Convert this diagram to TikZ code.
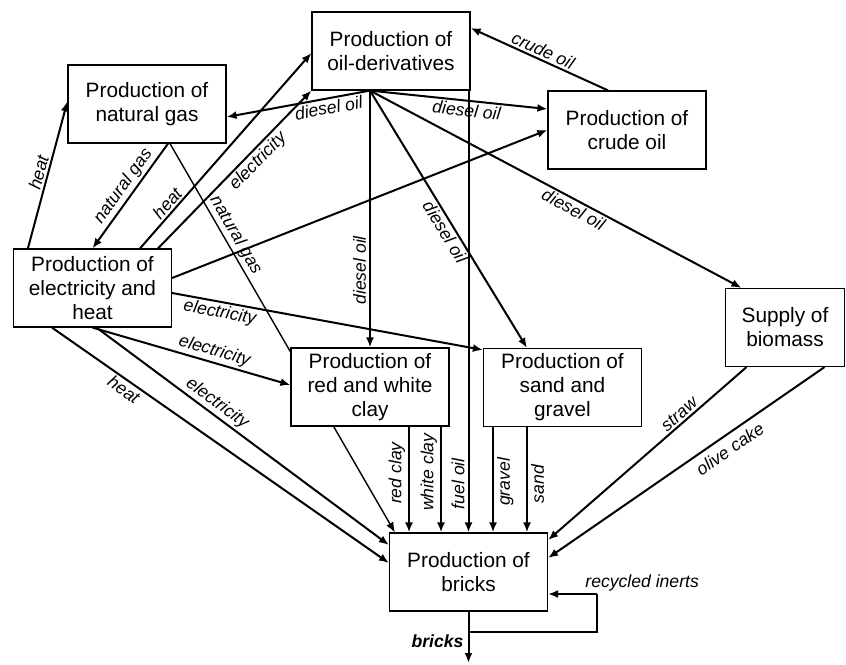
\documentclass[tikz,border=0pt]{standalone}
\usepackage{fontspec}
\setmainfont{Liberation Sans}
\usepackage{tikz}
\usetikzlibrary{arrows.meta, calc, positioning}
\tikzset{>={Latex[length=5pt,width=4pt]}}
\tikzset{box/.style={draw, line width=0.6pt, fill=white, align=center,
    minimum width=79pt, minimum height=39pt, inner sep=2pt,
    font=\fontsize{10.4}{12}\selectfont}}
\tikzset{flow/.style={->, line width=1pt},
  thinflow/.style={->, line width=0.7pt},
  lbl/.style={font=\fontsize{8.8}{10}\selectfont\itshape, inner sep=1pt, sloped},
  vlbl/.style={font=\fontsize{8.8}{10}\selectfont\itshape, inner sep=1.5pt, rotate=90}}

\begin{document}
\begin{tikzpicture}[x=0.5pt, y=-0.5pt]
  \useasboundingbox (0,0) rectangle (846,664);
  % processes
  \node[box] (od) at (391,51) {Production of\\oil-derivatives};
  \node[box] (ng) at (147,104) {Production of\\natural gas};
  \node[box] (co) at (627,130) {Production of\\crude oil};
  \node[box] (eh) at (92.5,288) {Production of\\electricity and\\heat};
  \node[box] (sg) at (562.5,387.5) {Production of\\sand and\\gravel};
  \node[box, minimum width=59.5pt] (bm) at (785,327.5) {Supply of\\biomass};
  \node[box] (br) at (468.5,572) {Production of\\bricks};
  % natural gas runs behind the clay box
  \draw[thinflow] ([xshift=11.5pt]ng.south) -- ([xshift=3pt]br.north west)
    node[lbl, pos=0.25, above] (lng2) {natural gas};
  \node[box] (cl) at (370,387) {Production of\\red and white\\clay};

  \draw[flow] ([xshift=7.5pt]eh.north west) -- ([yshift=-18.5pt]ng.north west)
    node[lbl, midway, above] (lh1) {heat};
  \draw[flow] ([xshift=10.5pt]ng.south) -- (eh.north)
    node[lbl, pos=0.47, above] (lng1) {natural gas};
  \draw[flow] ([xshift=23.75pt]eh.north) -- ([yshift=-1pt]od.west)
    node[lbl, pos=0.2, above] (lh2) {heat};
  \draw[flow] ([xshift=32.75pt]eh.north) -- (od.south west)
    node[lbl, pos=0.6, below] (le1) {electricity};
  \draw[flow] ([yshift=5pt]eh.east) -- (co.west);
  \draw[flow] ([yshift=-2.5pt]eh.east) -- ([yshift=-1pt]sg.north west)
    node[lbl, pos=0.16, below] (le2) {electricity};
  \draw[flow] (eh.south) -- ([yshift=1pt]cl.west)
    node[lbl, pos=0.6, above] (le3) {electricity};
  \draw[flow] ([xshift=2pt]eh.south) -- ([yshift=13.5pt]br.west)
    node[lbl, pos=0.39, above] (le4) {electricity};
  \draw[flow] ([xshift=-20.25pt]eh.south) -- ([yshift=4.5pt]br.west)
    node[lbl, pos=0.23, below] (lh3) {heat};

  % oil-derivatives
  \draw[flow] ([xshift=-9.5pt]co.north) -- ([yshift=11.5pt]od.east)
    node[lbl, midway, above] (lco) {crude oil};
  \draw[flow] ([xshift=-10.5pt]od.south) -- ([yshift=-6.5pt]ng.east)
    node[lbl, pos=0.3, below] (ld1) {diesel oil};
  \draw[flow] ([xshift=-10.5pt]od.south) -- ([yshift=10.5pt]co.west)
    node[lbl, pos=0.55, below] (ld2) {diesel oil};
  \draw[flow] ([xshift=-10.5pt]od.south) -- (cl.north)
    node[vlbl, pos=0.7, anchor=south] (ld3) {diesel oil};
  \draw[flow] ([xshift=-10.5pt]od.south) -- ([xshift=-17.75pt]sg.north)
    node[lbl, pos=0.53, below] (ld4) {diesel oil};
  \draw[flow] ([xshift=-10.5pt]od.south) -- ([xshift=-21.75pt]bm.north)
    node[lbl, pos=0.56, below] (ld5) {diesel oil};
  \draw[flow] (od.south -| br.north) -- (br.north)
    node[vlbl, pos=0.89, anchor=south] (lfo) {fuel oil};

  % raw materials
  \foreach \src/\dx/\txt/\anc/\p/\i in {cl/19.5/red clay/south/0.44/1,
      cl/35.5/white clay/south/0.43/2, sg/-34.75/gravel/north/0.52/3,
      sg/-17.75/sand/north/0.54/4}
    \draw[flow] ([xshift=\dx pt]\src.south) -- ([xshift=\dx pt]\src.south |- br.north)
      node[vlbl, pos=\p, anchor=\anc] (lm\i) {\txt};
  \draw[flow] ([xshift=-19.25pt]bm.south) -- ([yshift=16pt]br.east)
    node[lbl, pos=0.31, above] (lst) {straw};
  \draw[flow] ([xshift=19.75pt]bm.south) -- ([yshift=7pt]br.east)
    node[lbl, pos=0.37, below=2pt] (lol) {olive cake};

  % output and recycling
  \coordinate (out) at (468.5,663);
  \coordinate (rcorner) at (597,632);
  \coordinate (rturn) at (597,594);
  \draw[flow] (br.south) -- (out)
    node[pos=0.57, left, inner sep=2pt, font=\fontsize{8.8}{10}\selectfont\bfseries\itshape] (lbr) {bricks};
  \draw[line width=0.7pt] (br.south |- rcorner) -| (rturn);
  \draw[flow, line width=1.4pt] (rturn) -- (br.east |- rturn);
  \node[lbl, sloped=false, anchor=south west] (lrec) at ([xshift=-7pt, yshift=0pt]rturn) {recycled inerts};
\end{tikzpicture}
\end{document}
